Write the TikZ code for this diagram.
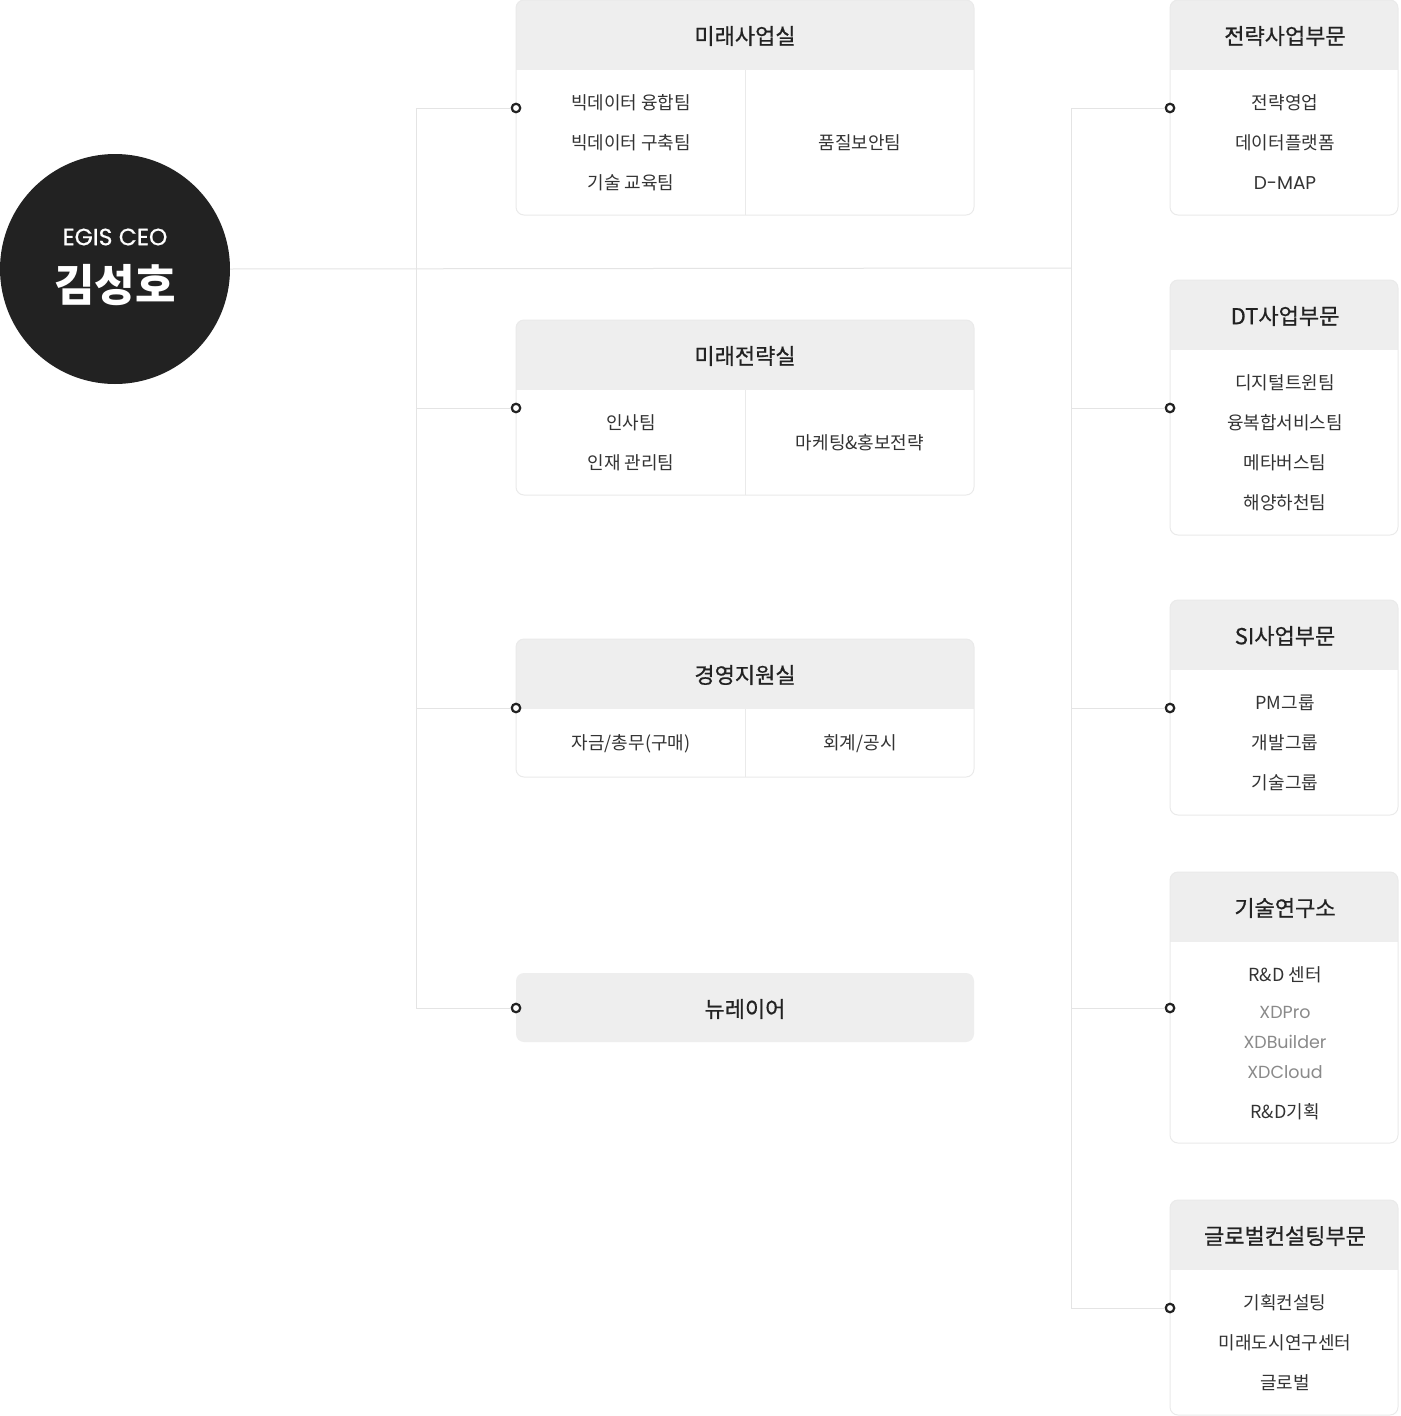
\documentclass[tikz,border=0pt]{standalone}
\usepackage{fontspec}
\setmainfont{Noto Sans CJK KR}
\newfontfamily\latinf{Poppins}
\newfontfamily\latinm[FakeBold=0.6]{Poppins}
\newfontfamily\krhd[FakeBold=0.7]{Noto Sans CJK KR}
\definecolor{ln}{HTML}{E4E4E4}
\definecolor{bd}{HTML}{EAEAEA}
\definecolor{hdr}{HTML}{EEEEEE}
\definecolor{ink}{HTML}{222222}
\definecolor{txt}{HTML}{333333}
\definecolor{soft}{HTML}{8A8A8A}
\definecolor{ceo}{HTML}{222222}
\tikzset{
  conn/.style={draw=ln, line width=1pt},
  frame/.style={draw=bd, line width=1pt, rounded corners=8pt},
  hd/.style={text=ink, font=\krhd\fontsize{22pt}{26pt}\selectfont, inner sep=0pt, anchor=center},
  it/.style={text=txt, font=\fontsize{18pt}{21pt}\selectfont, inner sep=0pt, anchor=center},
  lt/.style={text=soft, font=\latinf\fontsize{17.5pt}{20pt}\selectfont, inner sep=0pt, anchor=center},
  dot/.style={circle, draw=ink, line width=2.2pt, fill=white, minimum size=8.5pt, inner sep=0pt},
}
\begin{document}
\begin{tikzpicture}[x=1pt,y=-1pt]
\useasboundingbox (0,0) rectangle (1400,1416);
\fill[white] (0,0) rectangle (1400,1416);

% ---------- connectors ----------
\node[circle, fill=ceo, minimum size=230pt, inner sep=0pt] (ceo) at (115,269) {};
\coordinate (L0) at (416,268);
\coordinate (R0) at (1071,268);
\coordinate (L1) at (416,108);
\coordinate (L2) at (416,408);
\coordinate (L3) at (416,708);
\coordinate (L4) at (416,1008);
\coordinate (R1) at (1071,108);
\coordinate (R2) at (1071,408);
\coordinate (R3) at (1071,708);
\coordinate (R4) at (1071,1008);
\coordinate (R5) at (1071,1308);
\draw[conn] (ceo.east) -- (R0);
\draw[conn] (L1) -- (L4);
\draw[conn] (R1) -- (R5);

% ---------- left boxes ----------
% box 1
\begin{scope}\clip[rounded corners=8pt] (516,0) rectangle (974,215);
\fill[hdr] (516,0) rectangle (974,70);\end{scope}
\draw[frame] (516,0) rectangle (974,215);
\draw[conn, draw=bd] (745,70) -- (745,215);
\node[hd] (h1) at (745,36) {미래사업실};
\node[it] (a1) at (631,103) {빅데이터 융합팀};
\node[it] (a2) at (631,143) {빅데이터 구축팀};
\node[it] (a3) at (631,183) {기술 교육팀};
\node[it] (a4) at (860,143) {품질보안팀};
% box 2
\begin{scope}\clip[rounded corners=8pt] (516,320) rectangle (974,495);
\fill[hdr] (516,320) rectangle (974,390);\end{scope}
\draw[frame] (516,320) rectangle (974,495);
\draw[conn, draw=bd] (745,390) -- (745,495);
\node[hd] (h2) at (745,356) {미래전략실};
\node[it] (b1) at (631,423) {인사팀};
\node[it] (b2) at (631,463) {인재 관리팀};
\node[it] (b3) at (860,443) {마케팅\&홍보전략};
% box 3
\begin{scope}\clip[rounded corners=8pt] (516,639) rectangle (974,777);
\fill[hdr] (516,639) rectangle (974,709);\end{scope}
\draw[frame] (516,639) rectangle (974,777);
\draw[conn, draw=bd] (745,709) -- (745,777);
\node[hd] (h3) at (745,675) {경영지원실};
\node[it] (c1) at (631,744) {자금/총무(구매)};
\node[it] (c2) at (860,744) {회계/공시};
% box 4
\fill[hdr, rounded corners=8pt] (516,973) rectangle (974,1042);
\node[hd] (h4) at (745,1009) {뉴레이어};

% ---------- right boxes ----------
% box 1
\begin{scope}\clip[rounded corners=8pt] (1170,0) rectangle (1398,215);
\fill[hdr] (1170,0) rectangle (1398,70);\end{scope}
\draw[frame] (1170,0) rectangle (1398,215);
\node[hd] (r1) at (1285,36) {전략사업부문};
\node[it] (r11) at (1285,103) {전략영업};
\node[it] (r12) at (1285,143) {데이터플랫폼};
\node[it, font=\latinf\fontsize{18.5pt}{21pt}\selectfont] (r13) at (1285,183) {D-MAP};
% box 2
\begin{scope}\clip[rounded corners=8pt] (1170,280) rectangle (1398,535);
\fill[hdr] (1170,280) rectangle (1398,350);\end{scope}
\draw[frame] (1170,280) rectangle (1398,535);
\node[hd] (r2) at (1285,316) {DT사업부문};
\node[it] (r21) at (1285,383) {디지털트윈팀};
\node[it] (r22) at (1285,423) {융복합서비스팀};
\node[it] (r23) at (1285,463) {메타버스팀};
\node[it] (r24) at (1285,503) {해양하천팀};
% box 3
\begin{scope}\clip[rounded corners=8pt] (1170,600) rectangle (1398,815);
\fill[hdr] (1170,600) rectangle (1398,670);\end{scope}
\draw[frame] (1170,600) rectangle (1398,815);
\node[hd] (r3) at (1285,636) {SI사업부문};
\node[it] (r31) at (1285,703) {PM그룹};
\node[it] (r32) at (1285,743) {개발그룹};
\node[it] (r33) at (1285,783) {기술그룹};
% box 4
\begin{scope}\clip[rounded corners=8pt] (1170,872) rectangle (1398,1143);
\fill[hdr] (1170,872) rectangle (1398,942);\end{scope}
\draw[frame] (1170,872) rectangle (1398,1143);
\node[hd] (r4) at (1285,908) {기술연구소};
\node[it] (r41) at (1285,975) {R\&D 센터};
\node[lt] (r42) at (1285,1012) {XDPro};
\node[lt] (r43) at (1285,1042) {XDBuilder};
\node[lt] (r44) at (1285,1072) {XDCloud};
\node[it] (r45) at (1285,1112) {R\&D기획};
% box 5
\begin{scope}\clip[rounded corners=8pt] (1170,1200) rectangle (1398,1415);
\fill[hdr] (1170,1200) rectangle (1398,1270);\end{scope}
\draw[frame] (1170,1200) rectangle (1398,1415);
\node[hd] (r5) at (1285,1236) {글로벌컨설팅부문};
\node[it] (r51) at (1285,1303) {기획컨설팅};
\node[it] (r52) at (1285,1343) {미래도시연구센터};
\node[it] (r53) at (1285,1383) {글로벌};

% ---------- branch lines and dots ----------
\node[dot] (dl1) at (516,108) {};
\node[dot] (dl2) at (516,408) {};
\node[dot] (dl3) at (516,708) {};
\node[dot] (dl4) at (516,1008) {};
\node[dot] (dr1) at (1170,108) {};
\node[dot] (dr2) at (1170,408) {};
\node[dot] (dr3) at (1170,708) {};
\node[dot] (dr4) at (1170,1008) {};
\node[dot] (dr5) at (1170,1308) {};
\foreach \i in {1,2,3,4} \draw[conn] (L\i) -- (dl\i.west);
\foreach \i in {1,2,3,4,5} \draw[conn] (R\i) -- (dr\i.west);

% ---------- CEO text ----------
\node[text=white, font=\latinm\fontsize{23.5pt}{27pt}\selectfont, inner sep=0pt] (ceot) at (115,237) {EGIS CEO};
\node[text=white, font=\bfseries\fontsize{44pt}{50pt}\selectfont, inner sep=0pt] (ceon) at (115,285) {김성호};
\end{tikzpicture}
\end{document}
